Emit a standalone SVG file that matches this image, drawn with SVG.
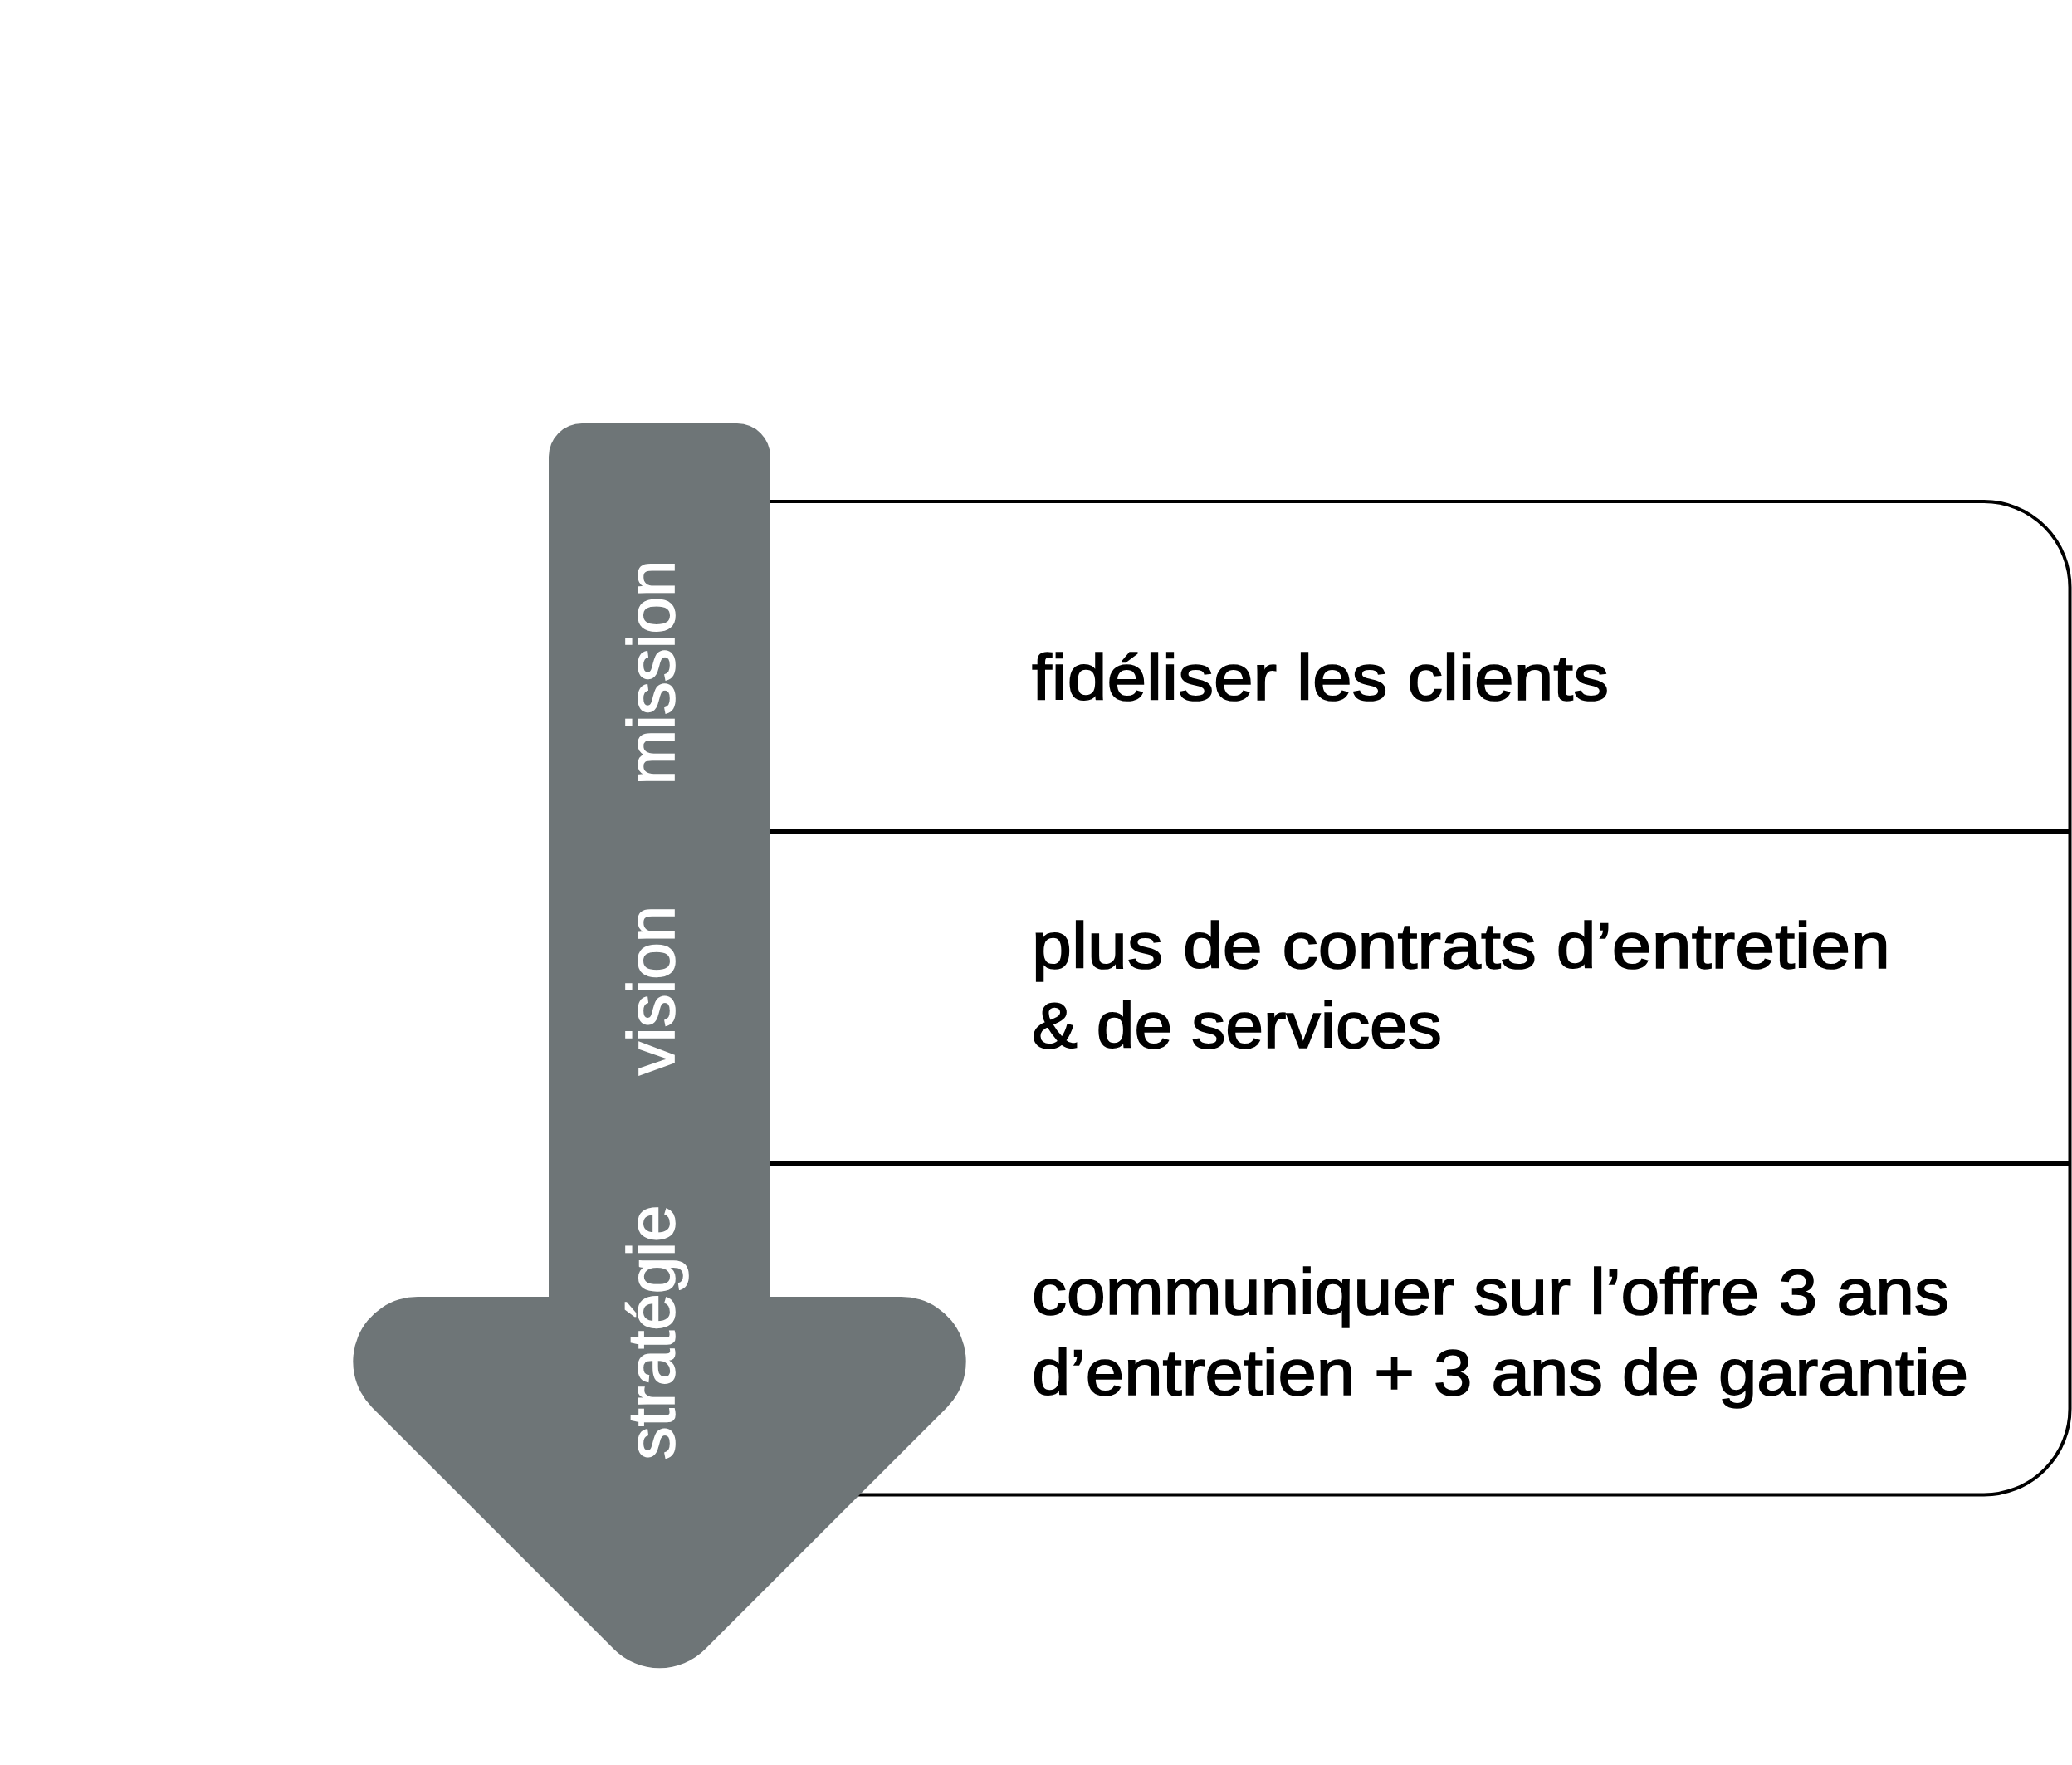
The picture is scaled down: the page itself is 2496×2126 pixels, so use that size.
<svg xmlns="http://www.w3.org/2000/svg" width="2496" height="2126" viewBox="0 0 2496 2126">
<style>
.box{fill:none;stroke:#000;stroke-width:4}
.div{stroke:#000;stroke-width:7}
.arrow{fill:#6e7577}
.lbl{font-family:"Liberation Sans",Arial,sans-serif;font-size:80px;fill:#fff;stroke:#fff;stroke-width:1.6;text-anchor:middle}
.txt{font-family:"Liberation Sans",Arial,sans-serif;font-size:77px;fill:#000;stroke:#000;stroke-width:1.6}
</style>
<rect width="2496" height="2126" fill="#fff"/>
<g id="panel">
<path class="box" d="M700 604 H2390 A103.5 103.5 0 0 1 2493.5 707.5 V1697 A103.5 103.5 0 0 1 2390 1800.5 H700"/>
</g>
<g id="connectors">
<line class="div" x1="900" y1="1001.5" x2="2493" y2="1001.5"/>
<line class="div" x1="900" y1="1401.5" x2="2493" y2="1401.5"/>
</g>
<g id="arrow">
<rect class="arrow" x="661" y="510" width="267" height="1120" rx="40" ry="40"/>
<path class="arrow" d="M503.3 1562 H1085.7 A78 78 0 0 1 1140.8 1695.2 L849.7 1986.3 A78 78 0 0 1 739.3 1986.3 L448.2 1695.2 A78 78 0 0 1 503.3 1562 Z"/>
</g>
<g id="mission">
<text class="lbl" transform="translate(812 810) rotate(-90)">mission</text>
<text class="txt" x="1243" y="843" textLength="695" lengthAdjust="spacingAndGlyphs">fidéliser les clients</text>
</g>
<g id="vision">
<text class="lbl" transform="translate(812 1193) rotate(-90)">vision</text>
<text class="txt" x="1243" y="1166" textLength="1034" lengthAdjust="spacingAndGlyphs">plus de contrats d’entretien</text>
<text class="txt" x="1243" y="1262" textLength="494" lengthAdjust="spacingAndGlyphs">&amp; de services</text>
</g>
<g id="strategie">
<text class="lbl" transform="translate(812 1605) rotate(-90)">stratégie</text>
<text class="txt" x="1243" y="1583" textLength="1105" lengthAdjust="spacingAndGlyphs">communiquer sur l’offre 3 ans</text>
<text class="txt" x="1243" y="1680" textLength="1128" lengthAdjust="spacingAndGlyphs">d’entretien + 3 ans de garantie</text>
</g>
</svg>
